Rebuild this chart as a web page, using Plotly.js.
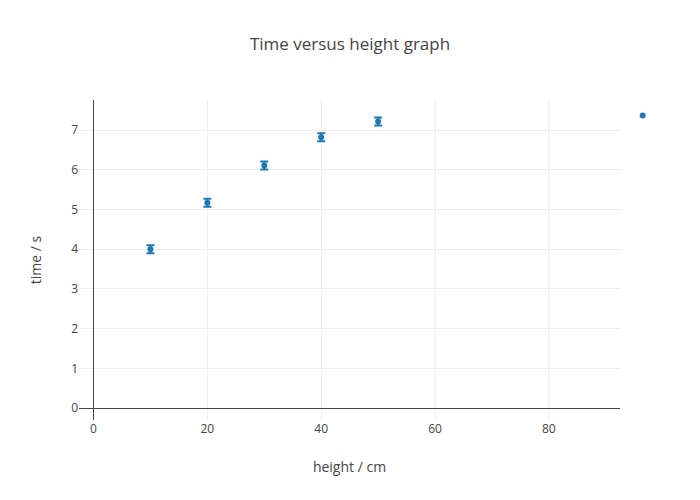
<!DOCTYPE html>
<html>
<head>
<meta charset="utf-8">
<script src="https://cdn.plot.ly/plotly-3.0.1.min.js"></script>
<style>html,body{margin:0;padding:0;background:#fff;}#chart{width:700px;height:500px;}</style>
</head>
<body>
<div id="chart"></div>
<script>
var heights = [10, 20, 30, 40, 50];
var times = [4.0, 5.17, 6.11, 6.82, 7.22];
var timeErrors = [0.1, 0.1, 0.1, 0.1, 0.1];

var trace = {
  x: heights,
  y: times,
  type: 'scatter',
  mode: 'markers',
  name: '',
  marker: {color: '#1f77b4', size: 6},
  error_y: {type: 'data', array: timeErrors, visible: true, color: '#1f77b4', thickness: 2, width: 4}
};

var layout = {
  width: 700,
  height: 500,
  showlegend: true,
  legend: {x: 1.005, y: 0.997},
  font: {family: '"Open Sans", verdana, arial, sans-serif', color: '#444', size: 12},
  title: {text: 'Time versus height graph', font: {size: 17}, x: 0.5, xref: 'container', y: 0.912, yref: 'container', yanchor: 'middle'},
  margin: {l: 79, r: 80, t: 100, b: 80},
  xaxis: {
    title: {text: 'height / cm', font: {size: 14}},
    range: [-2.55, 92.5],
    showgrid: true, gridcolor: '#eee',
    zeroline: true, zerolinecolor: '#444', zerolinewidth: 1,
    showline: false, dtick: 20
  },
  yaxis: {
    title: {text: 'time / s', font: {size: 14}},
    range: [-0.3, 7.76],
    showgrid: true, gridcolor: '#eee',
    zeroline: true, zerolinecolor: '#444', zerolinewidth: 1,
    showline: false, dtick: 1
  },
  plot_bgcolor: '#fff',
  paper_bgcolor: '#fff'
};

Plotly.newPlot('chart', [trace], layout, {displayModeBar: false});
</script>
</body>
</html>
